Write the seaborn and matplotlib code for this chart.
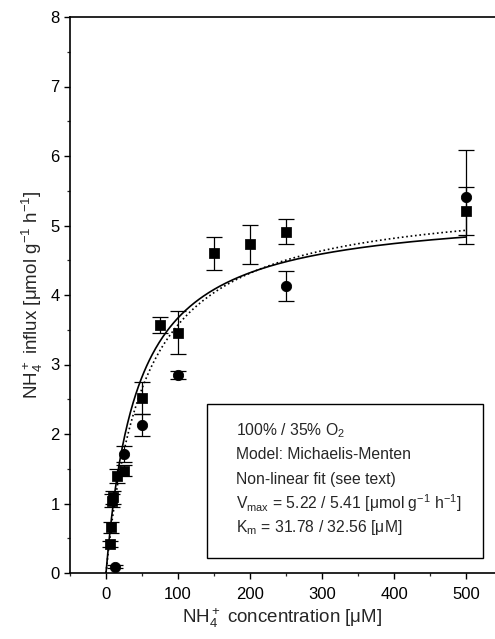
import numpy as np
import pandas as pd
import matplotlib
matplotlib.use("Agg")
import matplotlib.pyplot as plt
from matplotlib.patches import Rectangle
from matplotlib.ticker import MultipleLocator
import seaborn as sns

# squares (100% O2)
conc_sq = [5, 7.5, 8, 10, 15, 25, 50, 75, 100, 150, 200, 250, 500]
flux_sq = [0.42, 0.66, 1.04, 1.09, 1.40, 1.47, 2.52, 3.57, 3.46, 4.60, 4.73, 4.91, 5.21]
err_sq = [0.04, 0.08, 0.09, 0.09, 0.10, 0.08, 0.23, 0.12, 0.31, 0.24, 0.28, 0.18, 0.34]

# circles (35% O2)
conc_ci = [12, 25, 50, 100, 250, 500]
flux_ci = [0.09, 1.71, 2.13, 2.85, 4.13, 5.41]
err_ci = [0.02, 0.12, 0.16, 0.06, 0.22, 0.68]

# Michaelis-Menten fit curves as drawn (solid, dotted)
fit_vmax = [5.25, 5.45]
fit_km = [43.0, 52.6]
fit_style = ["-", ":"]

box_lines = [
    r"100% / 35% O$_2$",
    "Model: Michaelis-Menten",
    "Non-linear fit (see text)",
    r"V$_{\rm max}$ = 5.22 / 5.41 [μmol g$^{-1}$ h$^{-1}$]",
    r"K$_{\rm m}$ = 31.78 / 32.56 [μM]",
]

sns.set_theme(style="ticks")
plt.rcParams["font.family"] = ["Liberation Sans", "DejaVu Sans"]
plt.rcParams["mathtext.fontset"] = "custom"
plt.rcParams["mathtext.rm"] = "Liberation Sans"
plt.rcParams["mathtext.it"] = "Liberation Sans:italic"
plt.rcParams["mathtext.bf"] = "Liberation Sans:bold"

fig = plt.figure(figsize=(4.95, 6.39), dpi=100)
ax = fig.add_axes([70 / 495, 66 / 639, 425 / 495, 556 / 639])

# fit curves
s = np.linspace(0, 500, 400)
for vm, km, ls in zip(fit_vmax, fit_km, fit_style):
    df_fit = pd.DataFrame({"s": s, "v": vm * s / (km + s)})
    sns.lineplot(data=df_fit, x="s", y="v", ax=ax, color="black",
                 linestyle=ls, linewidth=1.2)

# error bars
ax.errorbar(conc_sq, flux_sq, yerr=err_sq, fmt="none", ecolor="black",
            elinewidth=0.9, capsize=6, capthick=0.9)
ax.errorbar(conc_ci, flux_ci, yerr=err_ci, fmt="none", ecolor="black",
            elinewidth=0.9, capsize=6, capthick=0.9)

# points
df_sq = pd.DataFrame({"c": conc_sq, "f": flux_sq})
df_ci = pd.DataFrame({"c": conc_ci, "f": flux_ci})
sns.scatterplot(data=df_sq, x="c", y="f", ax=ax, marker="s", s=45,
                color="black", edgecolor="black", zorder=5)
sns.scatterplot(data=df_ci, x="c", y="f", ax=ax, marker="o", s=55,
                color="black", edgecolor="black", zorder=5)

ax.set_xlim(-50, 540)
ax.set_ylim(0, 8)
ax.xaxis.set_major_locator(MultipleLocator(100))
ax.xaxis.set_minor_locator(MultipleLocator(50))
ax.yaxis.set_major_locator(MultipleLocator(1))
ax.yaxis.set_minor_locator(MultipleLocator(0.5))
ax.tick_params(which="major", direction="out", length=4, width=1.0,
               labelsize=12, colors="black")
ax.tick_params(which="minor", direction="out", length=2.5, width=0.9)
ax.tick_params(axis="x", pad=6)

for side in ["left", "bottom", "top"]:
    ax.spines[side].set_linewidth(1.2)
    ax.spines[side].set_color("black")
ax.spines["right"].set_visible(False)
ax.spines["top"].set_visible(True)

ax.set_xlabel(r"NH$_4^+$ concentration [μM]", fontsize=13.5, labelpad=3)
ax.set_ylabel(r"NH$_4^+$ influx [μmol g$^{-1}$ h$^{-1}$]", fontsize=13.5,
              labelpad=4)

# text box
ax.add_patch(Rectangle((139.6, 0.216), 384, 2.21, fill=False,
                       edgecolor="black", linewidth=1.0, zorder=6))
y0 = 2.05
for i, line in enumerate(box_lines):
    ax.text(180, y0 - i * 0.35, line, fontsize=11.3, va="center",
            ha="left", zorder=7)

fig.savefig("out.png", dpi=100)
